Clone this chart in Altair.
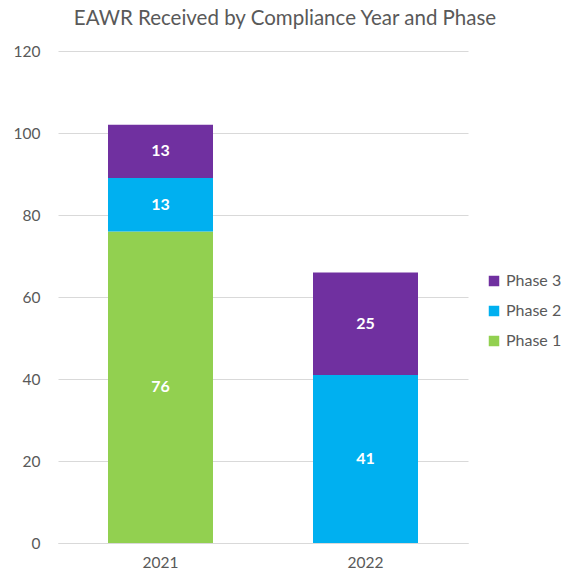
import altair as alt
import pandas as pd

years = ["2021", "2021", "2021", "2022", "2022"]
phases = ["Phase 1", "Phase 2", "Phase 3", "Phase 2", "Phase 3"]
values = [76, 13, 13, 41, 25]
phase_order = [1, 2, 3, 2, 3]

legend_domain = ["Phase 3", "Phase 2", "Phase 1"]
legend_colors = ["#7030A0", "#00B0F0", "#92D050"]

df = pd.DataFrame({"year": years, "phase": phases, "value": values, "ord": phase_order})

FONT = "Lato"
GREY = "#595959"

base = alt.Chart(df)

bars = base.mark_bar(size=105).encode(
    x=alt.X("year:N", title=None,
            axis=alt.Axis(labelAngle=0, labelFontSize=15.5, labelColor=GREY, labelFont=FONT,
                          ticks=False, domainColor="#D9D9D9", labelPadding=12)),
    y=alt.Y("sum(value):Q", title=None,
            scale=alt.Scale(domain=[0, 120], nice=False),
            axis=alt.Axis(values=[0, 20, 40, 60, 80, 100, 120], labelFontSize=15.5,
                          labelColor=GREY, labelFont=FONT, ticks=False, domain=False,
                          gridColor="#D9D9D9", labelPadding=18)),
    color=alt.Color("phase:N", title=None,
                    scale=alt.Scale(domain=legend_domain, range=legend_colors),
                    legend=alt.Legend(orient="none", legendX=428, legendY=222,
                                      symbolType="square", symbolSize=110,
                                      symbolStrokeWidth=0, labelFontSize=16,
                                      labelColor=GREY, labelFont=FONT,
                                      rowPadding=14, labelOffset=4)),
    order=alt.Order("ord:Q", sort="ascending"),
)

labels = base.transform_stack(
    stack="value", groupby=["year"], as_=["y0", "y1"],
    sort=[alt.SortField("ord", order="ascending")]
).transform_calculate(
    mid="(datum.y0 + datum.y1) / 2"
).mark_text(color="white", fontWeight="bold", fontSize=16, font=FONT).encode(
    x=alt.X("year:N"),
    y=alt.Y("mid:Q"),
    text=alt.Text("value:Q"),
)

chart = alt.layer(bars, labels).properties(
    width=410, height=492,
    title=alt.TitleParams("EAWR Received by Compliance Year and Phase", fontSize=20.5,
                          font=FONT, color=GREY, fontWeight="normal", anchor="middle",
                          dx=22, offset=15),
    autosize=alt.AutoSizeParams(type="none"),
    padding={"left": 50, "top": 43, "right": 94, "bottom": 30},
).configure_view(stroke=None)

chart.save("out.html", embed_options={"renderer": "svg", "actions": False})
